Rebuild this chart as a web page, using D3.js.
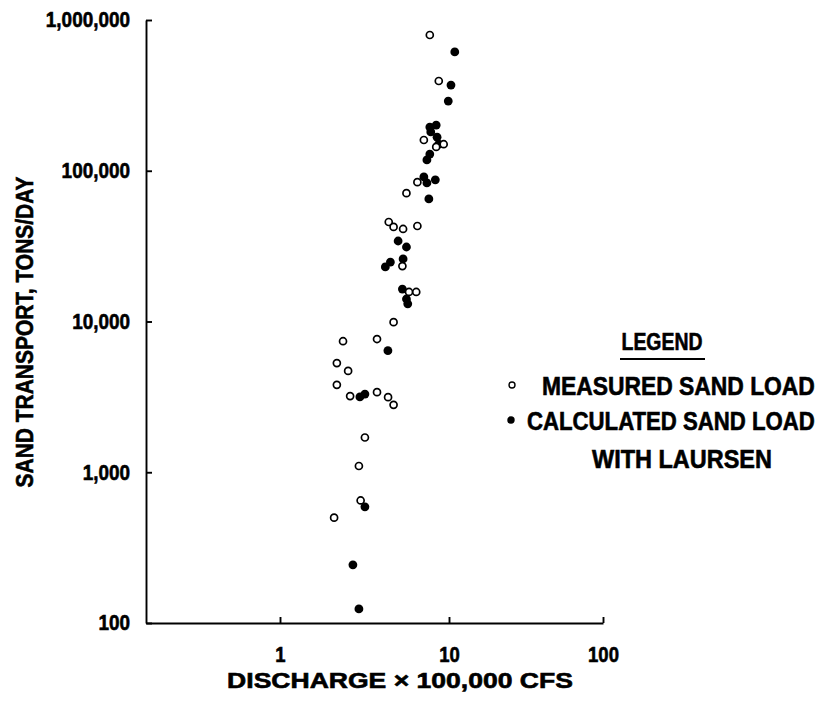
<!DOCTYPE html>
<html>
<head>
<meta charset="utf-8">
<script src="https://cdn.jsdelivr.net/npm/d3@7"></script>
<style>
  html, body { margin: 0; padding: 0; background: #fff; }
  svg { display: block; }
  text { font-family: "Liberation Sans", Arial, "DejaVu Sans", sans-serif; font-weight: bold; fill: #000; stroke: #000; stroke-width: 0.6px; }
</style>
</head>
<body>
<script>
// Discharge (x 100,000 cfs) and sand transport (tons/day)
const measuredQ    = [7.7, 8.7, 7.1, 8.4, 9.3, 6.5, 5.6, 4.4, 4.7, 5.35, 6.5, 5.3, 5.8, 6.4, 4.7, 2.36, 3.75, 2.17, 2.53, 2.17, 2.6, 3.75, 4.36, 4.7, 3.18, 2.93, 3.0, 2.09];
const measuredLoad = [795000, 394000, 160000, 144000, 150000, 84000, 71000, 45700, 42400, 41100, 43000, 23300, 15700, 15700, 9900, 7400, 7650, 5300, 4700, 3800, 3200, 3400, 3150, 2800, 1700, 1100, 650, 500];

const laursenQ     = [10.9, 10.3, 9.9, 7.7, 8.4, 7.8, 8.5, 8.7, 7.7, 7.4, 7.1, 7.4, 8.3, 7.6, 5.0, 5.6, 4.2, 4.5, 5.35, 5.3, 5.6, 5.7, 4.35, 2.97, 3.18, 3.18, 2.7, 2.93];
const laursenLoad  = [614000, 370000, 290000, 195000, 201000, 181000, 167000, 150000, 129000, 118000, 91000, 83000, 87000, 65000, 34200, 31200, 23000, 24800, 26000, 16400, 14100, 13100, 6400, 3160, 3300, 590, 243, 124];

const xTicks = [1, 10, 100];
const yTicks = [100, 1000, 10000, 100000, 1000000];
const legendLabels = ["MEASURED SAND LOAD", "CALCULATED SAND LOAD", "WITH LAURSEN"];

const W = 832, H = 702;
const svg = d3.select("body").append("svg").attr("width", W).attr("height", H);

// hand-ruled log paper: decades along x are not quite equal
const x = d3.scaleLog().domain([0.161, 1, 10, 100]).range([146, 280, 449, 603]);
const y = d3.scaleLog().domain([100, 1000000]).range([623, 20]);

// squeeze axis tick labels into a narrower, poster-style face
function narrow(sel, factor) {
  sel.each(function () {
    const len = this.getComputedTextLength();
    d3.select(this).attr("textLength", len * factor).attr("lengthAdjust", "spacingAndGlyphs");
  });
}

// place a free-standing label and scale it horizontally to a given width
function label(parent, str, px, cx, cy, width, opts = {}) {
  const t = parent.append("text")
    .attr("text-anchor", opts.anchor || "start")
    .style("font-size", px + "px")
    .text(str);
  const s = width / t.node().getComputedTextLength();
  t.attr("transform", `translate(${cx},${cy}) rotate(${opts.rotate || 0}) scale(${s},1)`);
  return t;
}

const yAxis = svg.append("g")
  .attr("transform", `translate(${x(0.161)},0)`)
  .call(d3.axisLeft(y).tickValues(yTicks).tickFormat(d3.format(",")).tickSizeInner(-6).tickSizeOuter(0).tickPadding(16));
const xAxis = svg.append("g")
  .attr("transform", `translate(0,${y(100)})`)
  .call(d3.axisBottom(x).tickValues(xTicks).tickFormat(d3.format("d")).tickSizeInner(-6).tickSizeOuter(0).tickPadding(24));
svg.selectAll("g").attr("font-family", null).attr("font-size", null);
yAxis.selectAll("text").style("font-size", "21.5px").call(narrow, 0.88);
xAxis.selectAll("text").style("font-size", "21.5px").call(narrow, 0.86);

svg.selectAll(".domain, .tick line").attr("stroke", "#000").attr("stroke-width", 1.9);

// axis titles
label(svg, "SAND TRANSPORT, TONS/DAY", 24, 33, 332, 311, { anchor: "middle", rotate: -90 });
label(svg, "DISCHARGE × 100,000 CFS", 21.5, 400, 688, 346, { anchor: "middle" });

// calculated load (filled), then measured load (open) on top
svg.append("g").selectAll("circle")
  .data(d3.zip(laursenQ, laursenLoad))
  .join("circle")
  .attr("cx", d => x(d[0])).attr("cy", d => y(d[1]))
  .attr("r", 4.4).attr("fill", "#000");

svg.append("g").selectAll("circle")
  .data(d3.zip(measuredQ, measuredLoad))
  .join("circle")
  .attr("cx", d => x(d[0])).attr("cy", d => y(d[1]))
  .attr("r", 3.5).attr("fill", "#fff").attr("stroke", "#000").attr("stroke-width", 1.7);

// legend
const lg = svg.append("g");
label(lg, "LEGEND", 24, 662, 350, 81, { anchor: "middle" });
lg.append("line").attr("x1", 620).attr("x2", 705).attr("y1", 359).attr("y2", 359)
  .attr("stroke", "#000").attr("stroke-width", 2);

lg.append("circle").attr("cx", 512).attr("cy", 385).attr("r", 3).attr("fill", "#fff")
  .attr("stroke", "#000").attr("stroke-width", 1.4);
lg.append("circle").attr("cx", 511).attr("cy", 420).attr("r", 3.7).attr("fill", "#000");

label(lg, legendLabels[0], 25, 542, 395, 273);
label(lg, legendLabels[1], 25, 527, 430, 288);
label(lg, legendLabels[2], 25, 592, 468, 180);
</script>
</body>
</html>
